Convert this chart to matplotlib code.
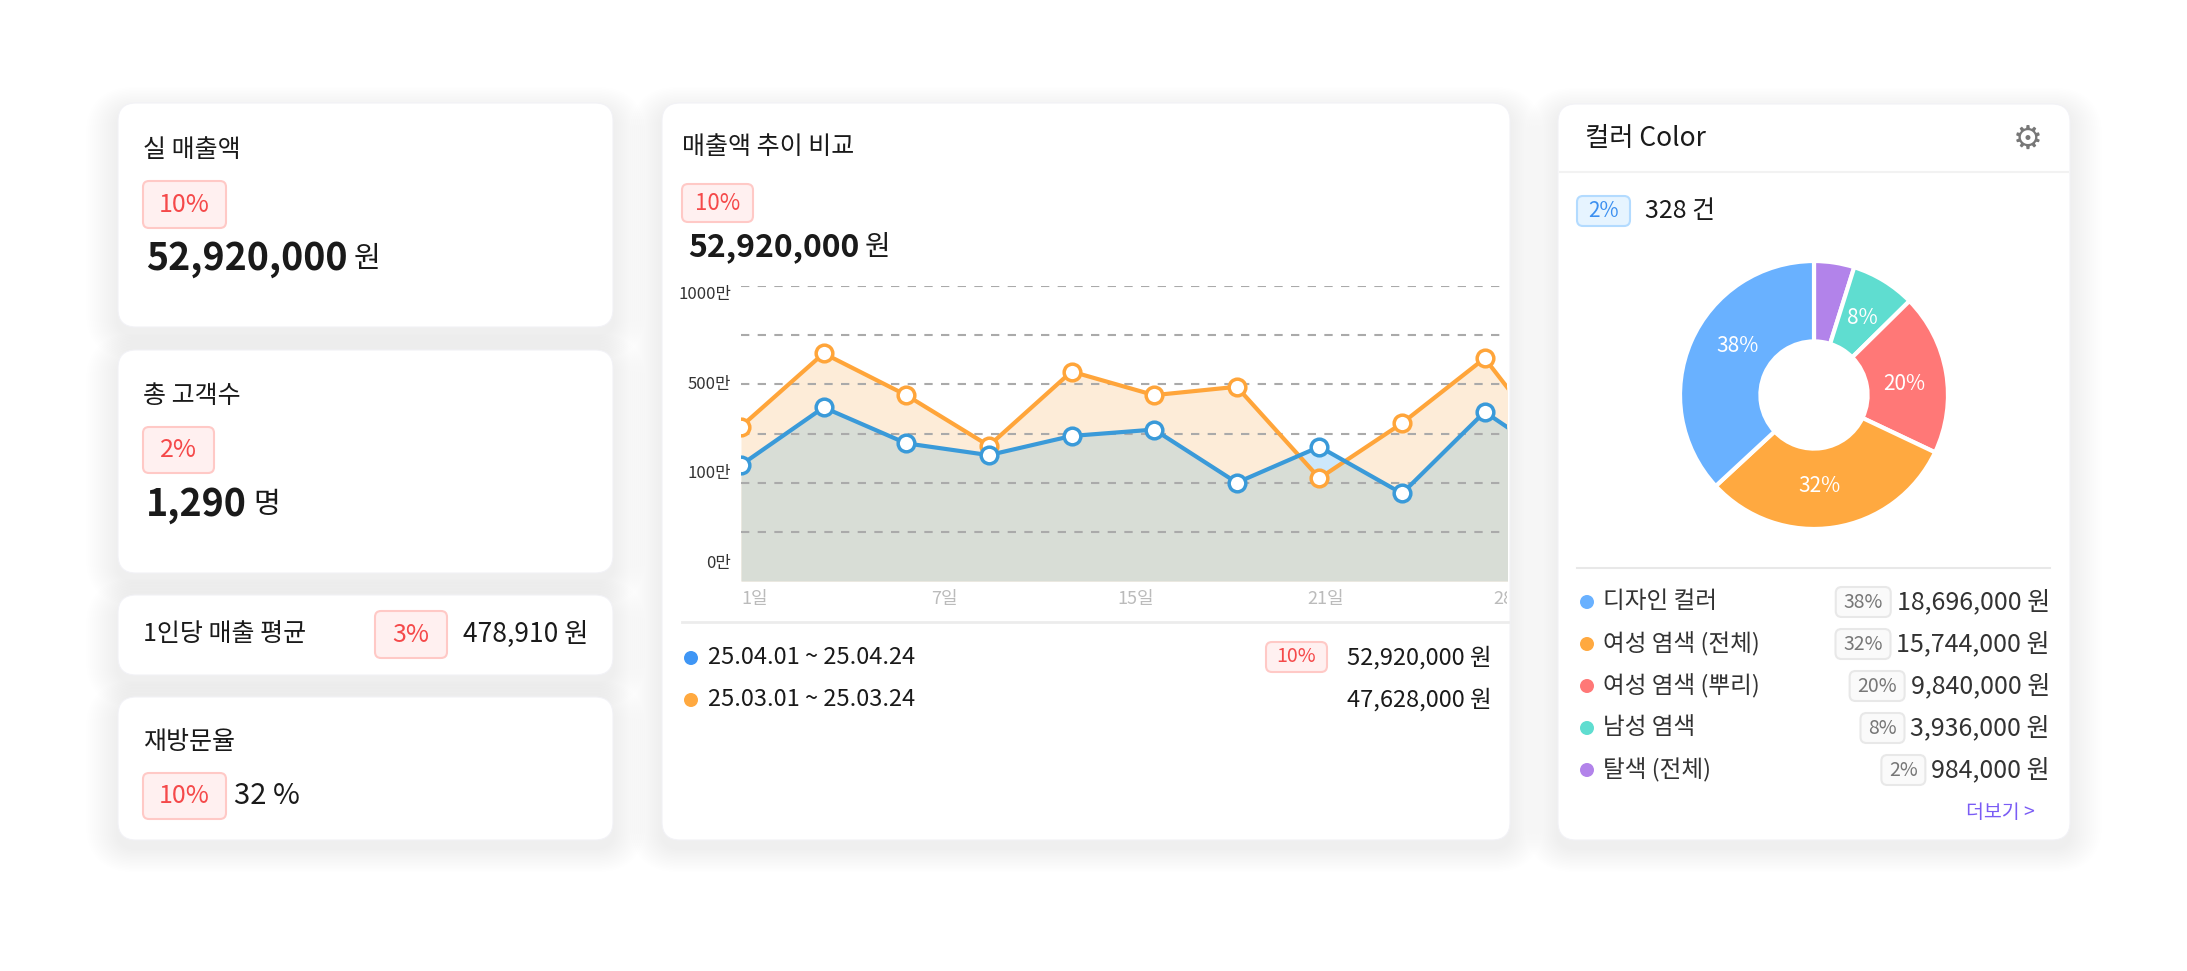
import matplotlib
matplotlib.use("Agg")
import matplotlib.pyplot as plt
from matplotlib.patches import FancyBboxPatch, Circle
from matplotlib.transforms import Bbox, TransformedBbox
import numpy as np

plt.rcParams['font.family'] = ['Noto Sans CJK KR', 'DejaVu Sans']

W, H = 2187, 971
# ---------- data ----------
blue_vals = [2.36, 3.53, 2.80, 2.56, 2.95, 3.08, 2.00, 2.73, 1.78, 3.44, 2.30]
orange_vals = [3.14, 4.63, 3.78, 2.75, 4.26, 3.78, 3.95, 2.09, 3.21, 4.53, 2.36]
y_labels = ['1000만', '500만', '100만', '0만']
y_label_pos = [5.82, 4.0, 2.18, 0.36]
x_labels = ['1일', '7일', '15일', '21일', '28일']
x_label_pos = [0, 2.3, 4.56, 6.85, 9.1]

donut_labels = ['탈색 (전체)', '남성 염색', '여성 염색 (뿌리)', '여성 염색 (전체)', '디자인 컬러']
donut_share = [5, 8, 20, 32, 38]
donut_colors = ['#b283ea', '#5fddd0', '#ff7877', '#ffa940', '#69b1ff']
legend_names = ['디자인 컬러', '여성 염색 (전체)', '여성 염색 (뿌리)', '남성 염색', '탈색 (전체)']
legend_pct = ['38%', '32%', '20%', '8%', '2%']
legend_amt = ['18,696,000 원', '15,744,000 원', '9,840,000 원', '3,936,000 원', '984,000 원']
legend_colors = ['#69b1ff', '#ffa940', '#ff7877', '#5fddd0', '#b283ea']

fig = plt.figure(figsize=(W / 100, H / 100), dpi=100)
fig.patch.set_facecolor('white')
bg = fig.add_axes([0, 0, 1, 1])
bg.set_xlim(0, W); bg.set_ylim(H, 0); bg.axis('off')
fig.canvas.draw()
rend = fig.canvas.get_renderer()
inv = bg.transData.inverted()

def right_edge(t):
    ext = t.get_window_extent(rend)
    return inv.transform((ext.x1, ext.y0))[0]

def card(x0, y0, x1, y1, r=18):
    for i in range(16, 0, -1):
        s = FancyBboxPatch((x0 - i * 2, y0 - i * 1.5 + 8), x1 - x0 + i * 4, y1 - y0 + i * 3,
                           boxstyle=f"round,pad=0,rounding_size={r + i * 2}", fc='#d8d8e6',
                           ec='none', alpha=0.025, zorder=1)
        bg.add_patch(s)
    bg.add_patch(FancyBboxPatch((x0, y0), x1 - x0, y1 - y0, boxstyle=f"round,pad=0,rounding_size={r}",
                                fc='white', ec='#f2f2f6', lw=0.8, zorder=2))

def badge(x0, y0, x1, y1, text, kind='red', fs=16):
    fc, ec, tc = {'red': ('#fff0f0', '#ffc9c6', '#f5494a'),
                  'blue': ('#e6f4ff', '#b3dbff', '#3b8ff0'),
                  'gray': ('#fafafa', '#e8e8e8', '#777777')}[kind]
    bg.add_patch(FancyBboxPatch((x0, y0), x1 - x0, y1 - y0, boxstyle="round,pad=0,rounding_size=6",
                                fc=fc, ec=ec, lw=1.5, zorder=3))
    bg.text((x0 + x1) / 2, (y0 + y1) / 2, text, color=tc, fontsize=fs, ha='center', va='center', zorder=4)

def number_unit(x, y, num, unit, fs, ufs, gap=6):
    t = bg.text(x, y, num, fontsize=fs, fontweight='bold', color=dark, va='center', zorder=4)
    bg.text(right_edge(t) + gap, y, unit, fontsize=ufs, color=dark, va='center', zorder=4)

dark = '#1a1a1a'
# ---------- left cards ----------
card(118, 103, 613, 327)
bg.text(143, 150, '실 매출액', fontsize=18, color=dark, va='center', zorder=4)
badge(143, 181, 226, 228, '10%', fs=18)
number_unit(146, 259, '52,920,000', '원', 27, 21)

card(118, 350, 613, 573)
bg.text(143, 396, '총 고객수', fontsize=18, color=dark, va='center', zorder=4)
badge(143, 427, 214, 473, '2%', fs=18)
number_unit(146, 505, '1,290', '명', 27, 21)

card(118, 595, 613, 675)
bg.text(143, 634, '1인당 매출 평균', fontsize=18, color=dark, va='center', zorder=4)
badge(375, 611, 447, 658, '3%', fs=18)
bg.text(588, 634, '478,910 원', fontsize=19, color=dark, va='center', ha='right', zorder=4)

card(118, 697, 613, 840)
bg.text(143, 742, '재방문율', fontsize=18, color=dark, va='center', zorder=4)
badge(143, 773, 226, 819, '10%', fs=18)
bg.text(234, 796, '32 %', fontsize=21, color=dark, va='center', zorder=4)

# ---------- middle card ----------
card(662, 103, 1510, 840)
bg.text(682, 147, '매출액 추이 비교', fontsize=18, color=dark, va='center', zorder=4)
badge(682, 184, 753, 222, '10%', fs=16)
number_unit(688, 247, '52,920,000', '원', 23, 20)
bg.plot([682, 1508], [622, 622], color='#ececec', lw=2, zorder=3)
bg.add_patch(Circle((691, 658), 7, fc='#3f96f5', ec='none', zorder=4))
bg.add_patch(Circle((691, 700), 7, fc='#ffa940', ec='none', zorder=4))
bg.text(708, 658, '25.04.01 ~ 25.04.24', fontsize=17, color=dark, va='center', zorder=4)
bg.text(708, 700, '25.03.01 ~ 25.03.24', fontsize=17, color=dark, va='center', zorder=4)
badge(1266, 642, 1327, 672, '10%', fs=14)
bg.text(1492, 658, '52,920,000 원', fontsize=17, color=dark, va='center', ha='right', zorder=4)
bg.text(1492, 700, '47,628,000 원', fontsize=17, color=dark, va='center', ha='right', zorder=4)

ax = fig.add_axes([741 / W, 1 - 581 / H, (1507 - 741) / W, (581 - 286) / H], zorder=5)
ax.patch.set_alpha(0)
x = np.arange(len(blue_vals))
b = np.array(blue_vals); o = np.array(orange_vals)
ax.fill_between(x, 0, o, color='#fdecd8', lw=0, zorder=1)
ax.fill_between(x, 0, b, color='#d8ddd6', lw=0, zorder=2)
ax.fill_between(x, o, b, where=b > o, interpolate=True, color='#cde8fb', lw=0, zorder=2)
for gy in range(1, 7):
    ax.axhline(gy, color='#aaaaaa', lw=1.5, ls=(0, (4, 4)), zorder=3)
ax.plot(x, o, color='#ffa53a', lw=3, marker='o', ms=12, mfc='white', mec='#ffa53a', mew=2.5, zorder=5)
ax.plot(x, b, color='#3a9ad9', lw=3, marker='o', ms=12, mfc='white', mec='#3a9ad9', mew=2.5, zorder=6)
ax.set_xlim(0, 9.27); ax.set_ylim(0, 6)
ax.axis('off')
for lab, yp in zip(y_labels, y_label_pos):
    ax.text(-0.12, yp, lab, fontsize=12, color='#333333', ha='right', va='center', transform=ax.transData)
clip = TransformedBbox(Bbox([[0, -1], [9.27, 6]]), ax.transData)
for lab, xp in zip(x_labels, x_label_pos):
    t = ax.text(xp, -0.18, lab, fontsize=13, color='#bbbbbb', ha='left', va='top', clip_on=False)
    t.set_clip_box(clip); t.set_clip_on(True)

# ---------- right card ----------
card(1558, 104, 2070, 840)
bg.text(1585, 139, '컬러 Color', fontsize=19, color=dark, va='center', zorder=4)
bg.text(2028, 139, '⚙', fontsize=24, color='#777777', va='center', ha='center', zorder=4,
        family=['DejaVu Sans'])
bg.plot([1560, 2068], [172, 172], color='#f2f2f2', lw=1.5, zorder=3)
badge(1577, 196, 1630, 226, '2%', kind='blue', fs=15)
bg.text(1645, 211, '328 건', fontsize=18, color=dark, va='center', zorder=4)

R = 134
dax = fig.add_axes([(1814 - R - 4) / W, 1 - (395 + R + 4) / H, (2 * R + 8) / W, (2 * R + 8) / H], zorder=5)
wedges, _ = dax.pie(donut_share, colors=donut_colors, startangle=90, counterclock=False,
                    wedgeprops=dict(width=0.6, edgecolor='white', linewidth=3))
dax.set_xlim(-1.03, 1.03); dax.set_ylim(-1.03, 1.03); dax.set_aspect('equal')
ang = 90
for s in donut_share:
    mid = np.deg2rad(ang - s * 3.6 / 2)
    ang -= s * 3.6
    if s >= 8:
        dax.text(0.68 * np.cos(mid), 0.68 * np.sin(mid), f'{s}%', color='white', fontsize=15,
                 ha='center', va='center')

bg.plot([1577, 2050], [568, 568], color='#e8e8e8', lw=1.5, zorder=3)
for i, (nm, pc, am, col) in enumerate(zip(legend_names, legend_pct, legend_amt, legend_colors)):
    yy = 602 + 42 * i
    bg.add_patch(Circle((1587, yy), 7, fc=col, ec='none', zorder=4))
    bg.text(1603, yy, nm, fontsize=17, color='#333333', va='center', zorder=4)
    t = bg.text(2050, yy, am, fontsize=18, color='#333333', va='center', ha='right', zorder=4)
    ext = t.get_window_extent(rend)
    left = inv.transform((ext.x0, ext.y0))[0]
    bw = 22 + 11 * len(pc)
    badge(left - 6 - bw, yy - 15, left - 6, yy + 15, pc, kind='gray', fs=14)
bg.text(2035, 812, '더보기 >', fontsize=14, color='#7a5cf5', va='center', ha='right', zorder=4)

fig.savefig('out.png', dpi=100, facecolor='white')
